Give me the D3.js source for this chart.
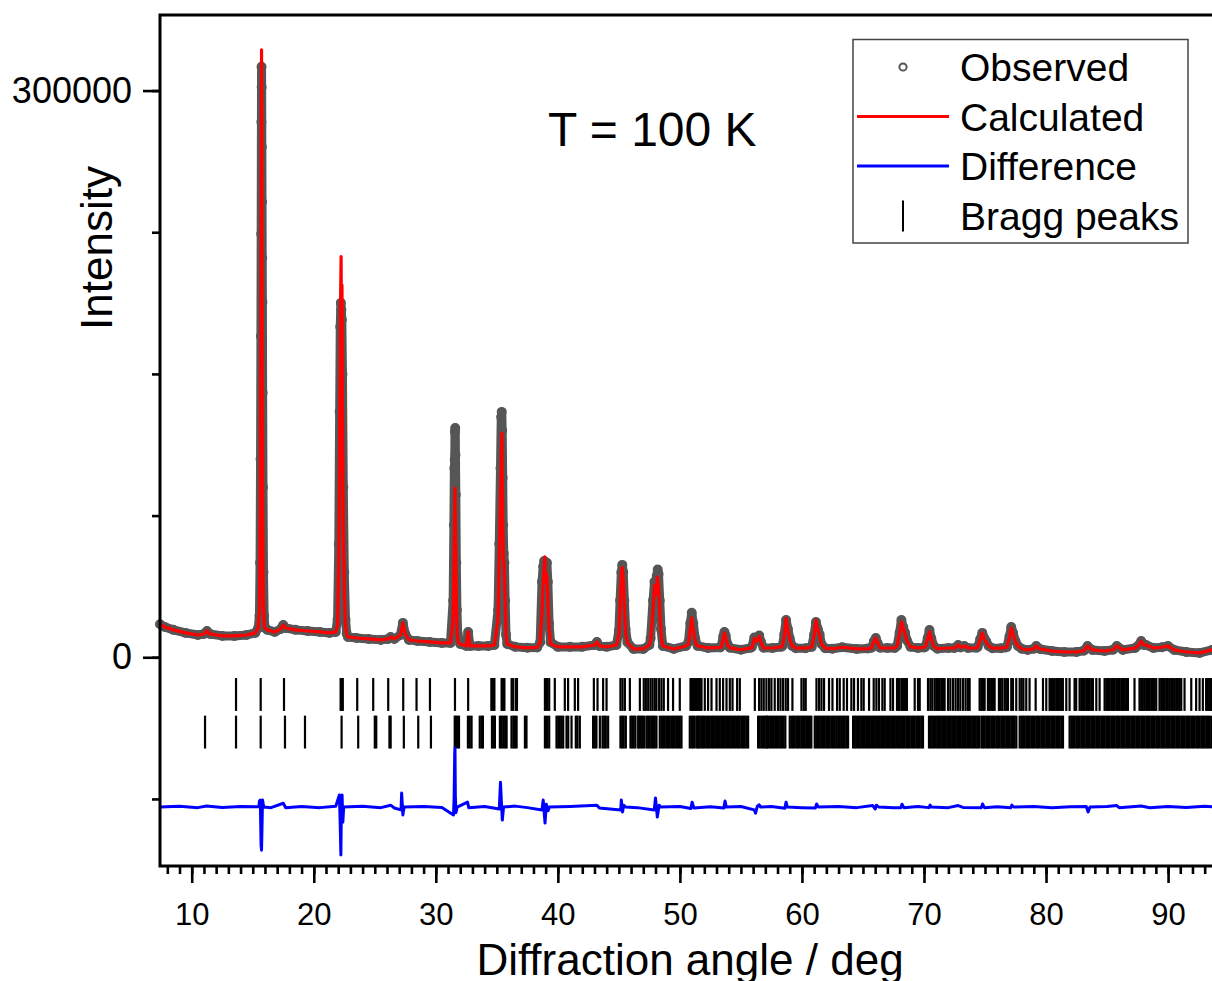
<!DOCTYPE html>
<html>
<head>
<meta charset="utf-8">
<script src="https://cdn.jsdelivr.net/npm/d3@7"></script>
<style>
  body { margin: 0; background: #fff; }
  svg { display: block; font-family: "Liberation Sans", Arial, sans-serif; }
</style>
</head>
<body>
<svg id="chart" width="1212" height="981"></svg>
<script>
// ---- data (2theta in deg, intensity in counts) ----

// background points shared by observed and calculated profile (they overlap there)
var background = [
  [7.4, 17500], [7.8, 16000], [8.5, 14500], [9.5, 12900], [10.5, 11800], [11.0, 12300], [11.25, 13900],
  [11.5, 12300], [12.5, 11300], [13.5, 11300], [14.5, 11800], [15.2, 12900], [15.45, 15500], [16.0, 15500],
  [16.2, 14500], [16.8, 13400], [17.3, 15000], [17.5, 17100], [17.7, 15500], [18.5, 14500], [19.5, 13900],
  [20.5, 13400], [21.3, 12900], [21.8, 13400], [22.8, 10750], [23.5, 10200], [24.5, 9700], [25.5, 9200],
  [26.1, 9700], [26.3, 10750], [26.6, 9700], [27.1, 11800], [27.3, 18200], [27.5, 12300], [27.8, 9200],
  [28.5, 8600], [29.5, 8100], [30.5, 7600], [31.2, 7600], [32.0, 7000], [32.5, 6000], [32.65, 13400],
  [32.8, 6000], [33.5, 6000], [34.3, 6000], [34.8, 6500], [36.5, 5500], [37.5, 5000], [38.3, 5200],
  [38.55, 8000], [40.0, 5500], [41.0, 5500], [42.0, 5500], [43.0, 6500], [43.2, 8100], [43.4, 6000],
  [44.0, 5500], [44.8, 6500], [46.2, 4400], [47.0, 4400], [47.5, 6500], [49.5, 4400], [50.5, 6000],
  [52.3, 4900], [53.3, 5200], [55.0, 4000], [55.8, 5000], [57.6, 4900], [58.3, 5500], [60.3, 4800],
  [60.8, 5500], [62.5, 4500], [63.3, 5300], [64.5, 4400], [65.4, 4600], [65.7, 5000], [65.9, 8500],
  [66.05, 10200], [66.2, 7500], [66.4, 5000], [67.0, 4900], [67.6, 4900], [69.5, 4900], [70.0, 5200],
  [72.0, 4900], [72.5, 4900], [72.8, 6500], [73.0, 5200], [73.3, 6000], [73.6, 4900], [74.3, 5000],
  [76.3, 4800], [76.7, 5200], [78.5, 3900], [79.0, 4500], [79.2, 6000], [79.5, 4400], [80.5, 3300],
  [81.5, 2800], [82.5, 2800], [83.1, 3500], [83.4, 6000], [83.8, 3900], [84.8, 3300], [85.5, 4000],
  [85.8, 6000], [86.3, 3900], [87.3, 4900], [87.6, 6500], [87.8, 8600], [88.0, 6500], [88.2, 6500],
  [88.8, 4900], [89.5, 5300], [90.0, 6000], [90.5, 3900], [91.5, 2800], [92.6, 2300], [93.6, 3900], [94.2, 4800]
];

// observed points on the reflections
var observedPeaks = [
  [15.55, 22000], [15.6, 50000], [15.64, 105000], [15.67, 170000], [15.69, 224100], [15.71, 283400],
  [15.72, 312600], [15.73, 301700], [15.745, 270100], [15.76, 241000], [15.775, 211400], [15.79, 188000],
  [15.81, 140000], [15.84, 90000], [15.88, 45000], [15.93, 22000],
  [21.95, 20000], [22.05, 60000], [22.12, 130000], [22.17, 175000], [22.22, 187600], [22.26, 184000],
  [22.3, 178700], [22.35, 150000], [22.42, 90000], [22.5, 45000], [22.6, 20000], [22.7, 12500],
  [31.42, 30000], [31.48, 70000], [31.52, 100000], [31.55, 104500], [31.57, 119300], [31.59, 121400],
  [31.61, 107100], [31.64, 86000], [31.68, 50000], [31.73, 25000], [31.8, 12000],
  [35.1, 25000], [35.2, 60000], [35.3, 100000], [35.36, 127200], [35.4, 129900], [35.44, 120000],
  [35.48, 95000], [35.52, 70000], [35.57, 55000], [35.62, 50000], [35.68, 30000], [35.75, 12000], [35.85, 7000],
  [38.7, 40000], [38.8, 48000], [38.88, 51000], [38.95, 50500], [39.02, 48000], [39.1, 50000],
  [39.18, 40000], [39.28, 18000], [39.4, 8000],
  [45.0, 14000], [45.1, 30000], [45.2, 45000], [45.28, 48900], [45.36, 45000], [45.45, 30000], [45.55, 15000], [45.7, 8000],
  [47.6, 10000], [47.8, 30000], [47.92, 40000], [48.0, 38000], [48.1, 43000], [48.18, 46500], [48.25, 44000],
  [48.35, 30000], [48.45, 15000], [48.6, 6000],
  [50.7, 8000], [50.85, 18000], [50.97, 23500], [51.1, 18000], [51.25, 10000], [51.45, 6000],
  [53.4, 6000], [53.55, 11000], [53.65, 13400], [53.75, 11500], [53.9, 7000], [54.1, 5000],
  [55.9, 5500], [56.1, 10500], [56.2, 9000], [56.35, 9500], [56.5, 11500], [56.65, 8000], [56.85, 5000],
  [58.4, 6000], [58.55, 12000], [58.7, 19700], [58.85, 15000], [59.0, 10000], [59.2, 6000], [59.5, 4800],
  [61.0, 12000], [61.15, 18700], [61.3, 15000], [61.45, 12000], [61.6, 7000], [61.9, 4800],
  [67.8, 6000], [68.0, 13000], [68.15, 19700], [68.3, 16000], [68.45, 13000], [68.6, 9000], [68.9, 5500],
  [70.1, 5500], [70.3, 10000], [70.45, 14400], [70.6, 10000], [70.8, 6000], [71.1, 4500],
  [74.4, 5500], [74.6, 9500], [74.78, 12900], [74.95, 10000], [75.1, 8500], [75.3, 6000], [75.6, 4800],
  [76.8, 5500], [77.0, 11000], [77.15, 16000], [77.3, 13000], [77.5, 8500], [77.7, 6000], [78.0, 4500]
];

// calculated profile on the reflections
var calculatedPeaks = [
  [15.55, 25000], [15.62, 80000], [15.67, 180000], [15.7, 280000], [15.72, 321600], [15.74, 280000],
  [15.77, 170000], [15.81, 80000], [15.86, 30000], [15.95, 16000],
  [21.95, 17000], [22.05, 50000], [22.14, 130000], [22.2, 190000], [22.24, 212100], [22.27, 160000],
  [22.31, 197000], [22.35, 130000], [22.42, 70000], [22.5, 35000], [22.6, 17000], [22.7, 12000],
  [31.42, 20000], [31.5, 55000], [31.57, 89600], [31.62, 60000], [31.68, 30000], [31.75, 12000], [31.85, 7500],
  [35.1, 20000], [35.25, 70000], [35.41, 118700], [35.48, 70000], [35.54, 52000], [35.6, 48900],
  [35.66, 35000], [35.75, 12000], [35.85, 7000],
  [38.7, 25000], [38.85, 45000], [38.93, 53100], [39.0, 40000], [39.08, 44000], [39.15, 36000], [39.28, 15000], [39.4, 7000],
  [45.0, 12000], [45.1, 28000], [45.2, 44000], [45.28, 47500], [45.36, 42000], [45.45, 28000], [45.55, 13000], [45.7, 7500],
  [47.6, 9000], [47.8, 25000], [47.92, 38000], [48.02, 33000], [48.15, 42500], [48.25, 38000], [48.38, 20000],
  [48.5, 9000], [48.6, 6000],
  [50.7, 7000], [50.85, 15000], [50.97, 20800], [51.1, 14000], [51.3, 7000], [51.45, 6000],
  [53.4, 5500], [53.55, 10000], [53.65, 12900], [53.75, 10500], [53.9, 6500], [54.1, 5000],
  [55.9, 5000], [56.1, 10000], [56.2, 8500], [56.35, 9000], [56.5, 11000], [56.65, 7500], [56.85, 5000],
  [58.4, 6000], [58.55, 11000], [58.7, 20500], [58.85, 14000], [59.0, 9500], [59.2, 6000], [59.5, 4800],
  [61.0, 11500], [61.15, 19500], [61.3, 14500], [61.45, 11500], [61.6, 6800], [61.9, 4800],
  [67.8, 6000], [68.0, 12500], [68.15, 18700], [68.3, 15500], [68.45, 12500], [68.6, 8500], [68.9, 5500],
  [70.1, 5500], [70.3, 9500], [70.45, 13400], [70.6, 9500], [70.8, 6000], [71.1, 4500],
  [74.4, 5500], [74.6, 9000], [74.78, 12900], [74.95, 9500], [75.1, 8000], [75.3, 6000], [75.6, 4800],
  [76.8, 5500], [77.0, 10500], [77.15, 15500], [77.3, 12500], [77.5, 8000], [77.7, 6000], [78.0, 4500]
];

// observed - calculated
var difference = [
  [7.4, 0], [9, 400], [10.5, -300], [11.2, 600], [12.5, -200], [14, 300], [15.5, 200], [15.55, 3200],
  [15.62, 3700], [15.68, -20000], [15.72, -22800], [15.76, -10000], [15.8, 3700], [15.9, 0], [16.5, -300],
  [17.5, 2000], [17.7, -400], [19, 300], [20.5, -300], [21.8, 400], [22.1, 6400], [22.17, -10000],
  [22.22, -25400], [22.27, 5000], [22.32, 6400], [22.38, -8000], [22.45, 0], [24, 400], [25.5, -300],
  [26.3, 1000], [26.6, -500], [27.15, -1500], [27.2, 7400], [27.3, -4200], [27.4, 0], [29, 300],
  [30.5, -200], [31.45, -4200], [31.5, 5000], [31.55, 29000], [31.57, 31300], [31.6, 6000], [31.65, -3000],
  [31.75, 0], [32.6, 2600], [32.7, -300], [34, 300], [35.2, -1000], [35.3, 13200], [35.38, 2000],
  [35.45, -6900], [35.55, 0], [36.5, 500], [37.5, -300], [38.7, -1500], [38.8, 3700], [38.95, -8500],
  [39.05, 1500], [39.2, -2000], [39.3, 0], [41, 300], [43.2, 1000], [43.4, -500], [45.15, -1500],
  [45.2, 3700], [45.3, -2600], [45.4, 1000], [45.55, 0], [46.5, -300], [47.9, -1500], [48.0, 4800],
  [48.1, -2000], [48.15, -5300], [48.3, 1000], [48.4, 0], [50, 300], [50.9, -800], [51.0, 2600],
  [51.15, -500], [52.5, 200], [53.6, -500], [53.7, 3200], [53.8, 0], [55, 300], [56.1, -1500],
  [56.2, -3200], [56.35, 500], [56.5, 1200], [56.6, 0], [57.5, 300], [58.6, -600], [58.7, 2600],
  [58.8, 0], [60, -300], [61.1, -500], [61.2, 1600], [61.35, 0], [63, 300], [64.5, -300], [65.8, 800],
  [66.0, -1000], [66.1, 1000], [66.3, 0], [67.5, -300], [68.1, -400], [68.2, 1500], [68.35, -300],
  [69.5, 300], [70.4, -300], [70.5, 1000], [70.6, 0], [72, -300], [72.8, 800], [73.2, -200], [74.7, -300],
  [74.8, 1600], [74.95, -300], [76, 200], [77.1, -400], [77.2, 1000], [77.35, 0], [79, 300], [80.5, -300],
  [82, 200], [83.3, 300], [83.45, -2600], [83.6, 0], [85, 300], [85.8, 800], [86, -300], [87.8, 600],
  [88.5, -400], [90, 300], [91.5, -200], [93, 400], [94.2, 0]
];
var diffOffset = -79300;

// reflection positions, phase 1 (upper row) and phase 2 (lower row)
var braggPhase1 = [
  13.63, 15.65, 17.56, 22.2, 22.3, 22.38, 23.56, 24.87, 26.1, 27.33, 28.42, 29.52, 31.57, 32.65, 34.55, 34.68,
  34.8, 35.39, 35.5, 35.62, 36.21, 36.34, 36.56, 36.65, 38.94, 39.12, 39.29, 39.75, 40.57, 40.84, 41.39,
  41.66, 42.95, 43.25, 43.71, 43.99, 45.13, 45.3, 45.49, 45.9, 46.72, 47.04, 47.21, 47.4, 47.59, 47.76,
  47.94, 48.08, 48.3, 48.49, 48.68, 49.03, 49.44, 49.99, 50.87, 51.0, 51.13, 51.25, 51.38, 51.5, 51.63,
  51.77, 52.04, 52.31, 52.59, 53.0, 53.27, 53.54, 53.82, 54.09, 54.31, 54.69, 54.91, 56.14, 56.49, 56.68,
  56.87, 57.09, 57.31, 57.5, 57.77, 58.04, 58.24, 58.45, 58.67, 58.86, 59.22, 59.96, 60.15, 60.31, 61.19,
  61.4, 61.6, 61.81, 62.22, 62.5, 62.88, 63.1, 63.42, 63.69, 64.05, 64.27, 64.59, 64.87, 65.06, 65.5,
  65.88, 66.1, 66.31, 66.59, 66.78, 67.25, 67.46, 67.79, 67.95, 68.14, 68.25, 68.36, 68.47, 68.6, 69.24,
  69.51, 69.65, 70.33, 70.52, 70.68, 70.87, 71.01, 71.15, 71.28, 71.42, 71.56, 71.69, 71.97, 72.16, 72.38,
  72.59, 72.79, 72.98, 73.2, 73.41, 73.6, 73.74, 74.56, 74.7, 74.83, 74.97, 75.24, 75.38, 75.51, 75.65,
  75.79, 76.14, 76.28, 76.42, 76.61, 76.74, 76.88, 77.15, 77.29, 77.56, 77.84, 78.0, 78.15, 78.38, 78.65,
  79.15, 79.75, 80.02, 80.29, 80.42, 80.56, 80.7, 80.84, 80.97, 81.11, 81.24, 81.38, 81.66, 81.93, 82.34,
  82.47, 82.75, 82.89, 83.02, 83.16, 83.3, 83.43, 83.57, 83.71, 83.84, 84.12, 84.39, 84.8, 84.94, 85.07,
  85.21, 85.35, 85.48, 85.62, 85.76, 85.89, 86.03, 86.17, 86.3, 86.44, 86.57, 86.71, 87.25, 87.66, 87.8,
  87.93, 88.07, 88.21, 88.35, 88.48, 88.62, 88.76, 88.89, 89.03, 89.3, 89.44, 89.58, 89.71, 89.85, 89.98,
  90.12, 90.26, 90.39, 90.53, 90.67, 90.8, 90.94, 91.08, 91.35, 91.9, 92.3, 92.58, 92.85, 93.12, 93.26,
  93.4, 93.53
];
var braggPhase2 = [
  11.09, 13.63, 15.65, 17.64, 19.28, 22.28, 23.64, 25.0, 25.12, 26.2, 26.3, 27.38, 28.56, 29.6, 31.55,
  31.65, 31.78, 31.9, 32.63, 32.78, 32.93, 33.6, 33.75, 33.86, 34.6, 34.72, 34.84, 35.25, 35.39, 35.53,
  35.68, 35.8, 36.2, 36.35, 36.48, 36.62, 37.3, 37.43, 38.94, 39.12, 39.29, 39.89, 40.03, 40.16, 40.3,
  40.44, 40.71, 40.85, 41.12, 41.47, 41.61, 41.8, 42.89, 43.03, 43.16, 43.44, 43.66, 43.8, 43.93, 44.12,
  45.13, 45.27, 45.4, 45.57, 45.95, 46.09, 46.22, 46.36, 46.58, 46.66, 46.8, 46.93, 47.07, 47.26, 47.4,
  47.53, 47.67, 47.8, 47.94, 48.08, 48.35, 48.49, 48.62, 48.76, 48.9, 49.03, 49.17, 49.31, 49.44, 49.58,
  49.72, 49.85, 49.99, 50.13, 50.81, 50.95, 51.08, 51.22, 51.41, 51.49, 51.63, 51.77, 51.9, 52.04, 52.18,
  52.31, 52.45, 52.59, 52.72, 52.86, 52.99, 53.13, 53.27, 53.4, 53.54, 53.68, 53.81, 53.95, 54.09, 54.22,
  54.36, 54.5, 54.63, 54.77, 54.9, 55.04, 55.18, 55.31, 55.45, 55.59, 56.41, 56.54, 56.68, 56.82, 56.95,
  57.09, 57.14, 57.28, 57.41, 57.55, 57.69, 57.82, 57.96, 58.1, 58.23, 58.37, 58.5, 58.64, 59.0, 59.14,
  59.27, 59.41, 59.55, 59.68, 59.82, 59.96, 60.09, 60.23, 60.36, 60.5, 60.64, 60.77, 61.05, 61.18, 61.32,
  61.46, 61.59, 61.73, 61.87, 62.0, 62.14, 62.27, 62.41, 62.55, 62.69, 62.83, 62.97, 63.1, 63.23, 63.37,
  63.5, 63.64, 63.78, 64.19, 64.33, 64.46, 64.6, 64.74, 64.87, 65.01, 65.15, 65.28, 65.42, 65.56, 65.69,
  65.83, 65.97, 66.1, 66.24, 66.38, 66.51, 66.65, 66.79, 66.92, 67.06, 67.2, 67.33, 67.47, 67.61, 67.74,
  67.88, 68.02, 68.15, 68.29, 68.42, 68.56, 68.7, 68.83, 68.97, 69.11, 69.24, 69.38, 69.52, 69.65, 69.79,
  69.92, 70.41, 70.55, 70.68, 70.82, 70.96, 71.09, 71.23, 71.37, 71.5, 71.64, 71.78, 71.91, 72.05, 72.19,
  72.32, 72.46, 72.6, 72.73, 72.87, 73.01, 73.14, 73.28, 73.42, 73.55, 73.69, 73.83, 73.96, 74.1, 74.24,
  74.37, 74.51, 74.7, 74.83, 74.97, 75.11, 75.24, 75.38, 75.52, 75.65, 75.79, 75.93, 76.06, 76.2, 76.34,
  76.47, 76.61, 76.75, 76.88, 77.02, 77.16, 77.29, 77.43, 77.57, 77.84, 77.98, 78.11, 78.25, 78.39, 78.52,
  78.66, 78.8, 78.93, 79.07, 79.21, 79.34, 79.48, 79.62, 79.75, 79.89, 80.03, 80.16, 80.3, 80.44, 80.57,
  80.71, 80.85, 80.98, 81.12, 81.26, 81.39, 81.93, 82.07, 82.2, 82.34, 82.48, 82.61, 82.75, 82.89, 83.02,
  83.16, 83.3, 83.43, 83.57, 83.71, 83.84, 83.98, 84.12, 84.25, 84.39, 84.53, 84.66, 84.8, 84.94, 85.07,
  85.21, 85.35, 85.48, 85.62, 85.76, 85.89, 86.03, 86.17, 86.3, 86.44, 86.58, 86.71, 86.85, 86.99, 87.12,
  87.26, 87.4, 87.53, 87.67, 87.81, 87.94, 88.08, 88.22, 88.35, 88.49, 88.63, 88.76, 88.9, 89.04, 89.17,
  89.31, 89.45, 89.58, 89.72, 89.86, 89.99, 90.13, 90.27, 90.4, 90.54, 90.68, 90.81, 90.95, 91.09, 91.22,
  91.36, 91.5, 91.63, 91.77, 91.91, 92.04, 92.18, 92.32, 92.45, 92.59, 92.73, 92.86, 93.0, 93.14, 93.27,
  93.41, 93.55
];
var braggRowLevel = [-19700, -39600];   // counts, where each tick row is centred
var braggHalfHeight = 8700;

var xTicks = [10, 20, 30, 40, 50, 60, 70, 80, 90];
var yTicks = [0, 300000];
var yMinorStep = 75000;

var legendItems = ["Observed", "Calculated", "Difference", "Bragg peaks"];

// ---- build ----
function byAngle(a, b) { return a[0] - b[0]; }
var observed = background.concat(observedPeaks).sort(byAngle);
var calculated = background.concat(calculatedPeaks).sort(byAngle);

var svg = d3.select("#chart");
var plotLeft = 160, plotTop = 15, plotBottom = 866;

var x = d3.scaleLinear().domain([7.4, 93.6]).range([plotLeft, 1212]);
var y = d3.scaleLinear().domain([-110500, 340000]).range([plotBottom, plotTop]);

var line = d3.line()
   .x(function (d) { return x(d[0]); })
   .y(function (d) { return y(d[1]); });

var plot = svg.append("g");

// observed: the dense open circles merge into a grey band, drawn as a wide stroke
plot.append("path")
   .datum(observed)
   .attr("d", line)
   .attr("fill", "none")
   .attr("stroke", "#565656")
   .attr("stroke-width", 9)
   .attr("stroke-linejoin", "round")
   .attr("stroke-linecap", "round");

plot.selectAll(".obs").data(observed).enter().append("circle")
   .attr("class", "obs")
   .attr("cx", function (d) { return x(d[0]); })
   .attr("cy", function (d) { return y(d[1]); })
   .attr("r", 4)
   .attr("fill", "none")
   .attr("stroke", "#565656")
   .attr("stroke-width", 2);

// calculated
plot.append("path")
   .datum(calculated)
   .attr("d", line)
   .attr("fill", "none")
   .attr("stroke", "#ff0000")
   .attr("stroke-width", 3.2)
   .attr("stroke-linejoin", "round");

// bragg ticks
[braggPhase1, braggPhase2].forEach(function (row, i) {
   plot.append("g").selectAll("line").data(row).enter().append("line")
      .attr("x1", function (d) { return x(d); })
      .attr("x2", function (d) { return x(d); })
      .attr("y1", y(braggRowLevel[i] + braggHalfHeight))
      .attr("y2", y(braggRowLevel[i] - braggHalfHeight))
      .attr("stroke", "#000")
      .attr("stroke-width", 2.2);
});

// difference
plot.append("path")
   .datum(difference)
   .attr("d", d3.line()
      .x(function (d) { return x(d[0]); })
      .y(function (d) { return y(d[1] + diffOffset); }))
   .attr("fill", "none")
   .attr("stroke", "#0000ff")
   .attr("stroke-width", 3)
   .attr("stroke-linejoin", "round");

// ---- axes ----
var xMinor = d3.axisBottom(x).tickValues(d3.range(8, 94)).tickSize(8).tickFormat("");
var xMajor = d3.axisBottom(x).tickValues(xTicks).tickSize(17).tickPadding(20);
var yMinor = d3.axisLeft(y).tickValues(d3.range(-75000, 300001, yMinorStep)).tickSize(8).tickFormat("");
var yMajor = d3.axisLeft(y).tickValues(yTicks).tickSize(17).tickPadding(11).tickFormat(d3.format("d"));

function styleAxis(g, fontSize) {
   g.select(".domain").remove();
   g.selectAll("line").attr("stroke", "#000").attr("stroke-width", 2.6);
   g.selectAll("text")
      .attr("fill", "#000")
      .style("font-family", "'Liberation Sans', Arial, sans-serif")
      .style("font-size", fontSize + "px");
}

svg.append("g").attr("transform", "translate(0," + plotBottom + ")").call(xMinor).call(styleAxis, 31);
svg.append("g").attr("transform", "translate(0," + plotBottom + ")").call(xMajor).call(styleAxis, 31);
svg.append("g").attr("transform", "translate(" + plotLeft + ",0)").call(yMinor).call(styleAxis, 36);
svg.append("g").attr("transform", "translate(" + plotLeft + ",0)").call(yMajor).call(styleAxis, 36);

// frame (right edge lies outside the window, as in the source)
svg.append("rect")
   .attr("x", plotLeft).attr("y", plotTop)
   .attr("width", 1240 - plotLeft).attr("height", plotBottom - plotTop)
   .attr("fill", "none")
   .attr("stroke", "#000")
   .attr("stroke-width", 3);

// titles
svg.append("text")
   .attr("x", 690).attr("y", 975)
   .attr("text-anchor", "middle")
   .style("font-size", "44px")
   .text("Diffraction angle / deg");

svg.append("text")
   .attr("transform", "translate(112,248) rotate(-90)")
   .attr("text-anchor", "middle")
   .style("font-size", "44px")
   .text("Intensity");

svg.append("text")
   .attr("x", 548).attr("y", 146)
   .style("font-size", "48px")
   .text("T = 100 K");

// ---- legend ----
var legend = svg.append("g");
legend.append("rect")
   .attr("x", 853).attr("y", 39.5)
   .attr("width", 335).attr("height", 203.5)
   .attr("fill", "#fff")
   .attr("stroke", "#444")
   .attr("stroke-width", 1.5);

var rowY = [67, 116.5, 166, 215.5];
legendItems.forEach(function (name, i) {
   var cy = rowY[i];
   if (i === 0) {
      legend.append("circle").attr("cx", 903).attr("cy", cy).attr("r", 3.6)
         .attr("fill", "none").attr("stroke", "#565656").attr("stroke-width", 2);
   } else if (i === 3) {
      legend.append("line").attr("x1", 903).attr("x2", 903).attr("y1", cy - 15).attr("y2", cy + 16)
         .attr("stroke", "#000").attr("stroke-width", 2);
   } else {
      legend.append("line").attr("x1", 857).attr("x2", 949).attr("y1", cy).attr("y2", cy)
         .attr("stroke", i === 1 ? "#ff0000" : "#0000ff").attr("stroke-width", 3);
   }
   legend.append("text")
      .attr("x", 960).attr("y", cy + 14)
      .style("font-size", "39px")
      .text(name);
});
</script>
</body>
</html>
